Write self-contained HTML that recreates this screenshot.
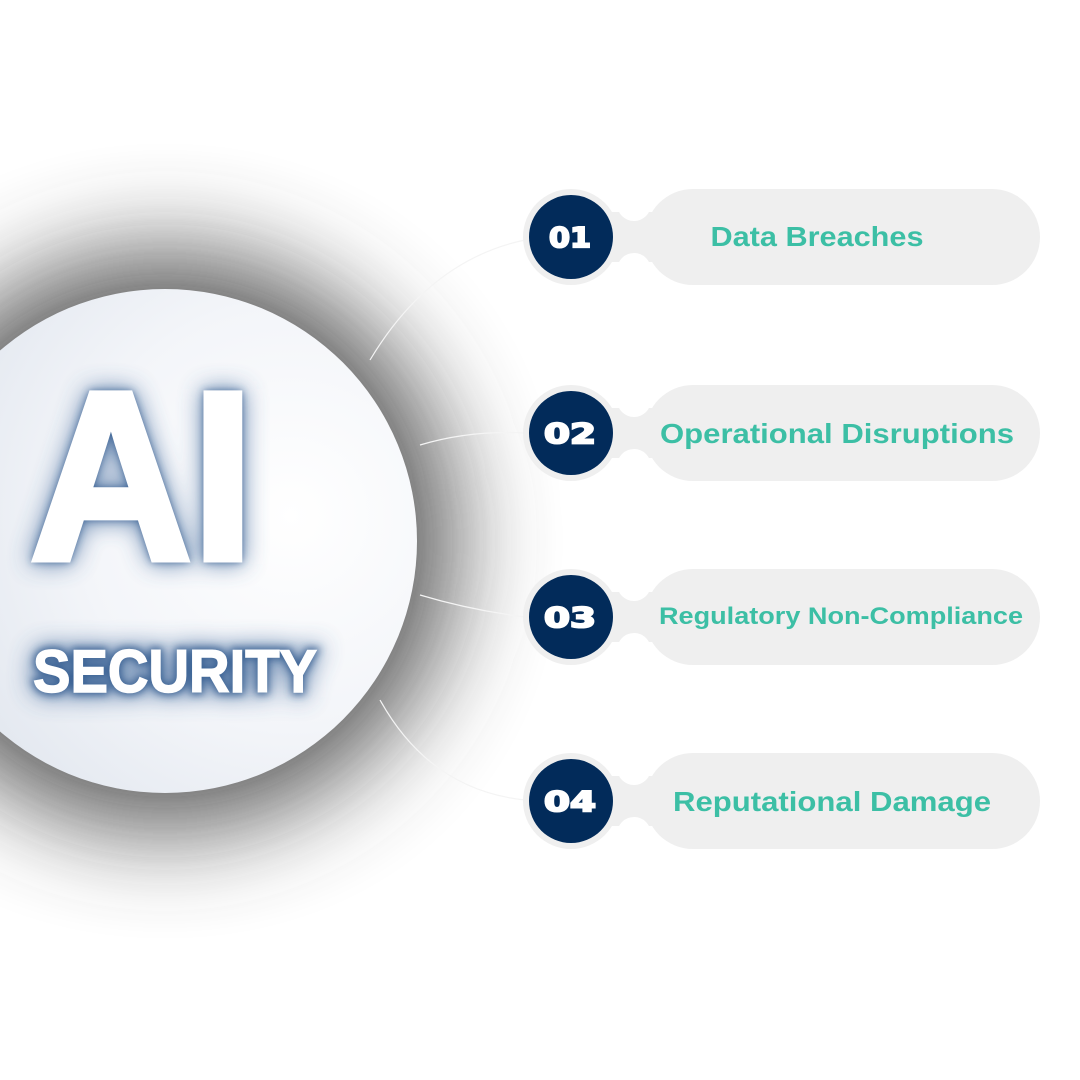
<!DOCTYPE html>
<html><head><meta charset="utf-8"><style>
html,body{margin:0;padding:0;background:#fff;}
</style></head><body>
<svg width="1080" height="1080" viewBox="0 0 1080 1080" xmlns="http://www.w3.org/2000/svg" style="display:block">
<defs>
<filter id="sh" x="-60%" y="-60%" width="220%" height="220%"><feGaussianBlur stdDeviation="50"/></filter>
<filter id="glow" x="-30%" y="-30%" width="160%" height="160%"><feGaussianBlur stdDeviation="12"/></filter>
<filter id="glow2" x="-30%" y="-30%" width="160%" height="160%"><feGaussianBlur stdDeviation="4"/></filter>
<radialGradient id="cg" cx="0.75" cy="0.45" r="0.85">
<stop offset="0" stop-color="#ffffff"/><stop offset="0.5" stop-color="#f3f5f9"/><stop offset="1" stop-color="#dde3ec"/>
</radialGradient>
</defs>
<rect width="1080" height="1080" fill="#fff"/>
<circle cx="165" cy="541" r="290" fill="#404040" filter="url(#sh)" opacity="0.85"/>
<circle cx="165" cy="541" r="252" fill="url(#cg)"/>
<g font-family="Liberation Sans, sans-serif" font-weight="bold">
<g filter="url(#glow)" fill="#3a6498" stroke="#3a6498" stroke-width="10" opacity="0.75">
<text x="30" y="559" font-size="240" textLength="224" lengthAdjust="spacingAndGlyphs">AI</text>
<text x="33" y="692" font-size="60" textLength="284" lengthAdjust="spacingAndGlyphs">SECURITY</text>
</g>
<g filter="url(#glow2)" fill="#2a548a" stroke="#2a548a" stroke-width="6" opacity="0.8">
<text x="30" y="559" font-size="240" textLength="224" lengthAdjust="spacingAndGlyphs">AI</text>
<text x="33" y="692" font-size="60" textLength="284" lengthAdjust="spacingAndGlyphs">SECURITY</text>
</g>
<text x="30" y="559" font-size="240" fill="#fff" stroke="#fff" stroke-width="7" stroke-linejoin="miter" textLength="224" lengthAdjust="spacingAndGlyphs">AI</text>
<text x="33" y="692" font-size="60" fill="#fff" stroke="#fff" stroke-width="1.5" textLength="284" lengthAdjust="spacingAndGlyphs">SECURITY</text>
</g>
<g fill="none" stroke="#f4f4f4" stroke-width="1.2">
<path d="M370 360 Q430 260 525 240"/>
<path d="M420 445 Q470 430 525 433"/>
<path d="M420 595 Q470 610 525 617"/>
<path d="M380 700 Q430 790 525 800"/>
</g>
<g font-family="Liberation Sans, sans-serif" font-weight="bold">
<g transform="translate(0,237)">
<rect x="645" y="-48" width="395" height="96" rx="48" fill="#efefef"/>
<rect x="600" y="-25" width="70" height="50" fill="#efefef"/>
<circle cx="634" cy="-33" r="17" fill="#fff"/><circle cx="634" cy="33" r="17" fill="#fff"/>
<circle cx="571" cy="0" r="48" fill="#efefef"/><circle cx="571" cy="0" r="42" fill="#022b5a"/>
<text x="570" y="10" text-anchor="middle" font-family="DejaVu Sans, sans-serif" font-size="28" fill="#fff" stroke="#fff" stroke-width="2" textLength="42" lengthAdjust="spacingAndGlyphs">01</text>
<text x="817" y="9" text-anchor="middle" font-size="28" fill="#3cbfa5" textLength="213" lengthAdjust="spacingAndGlyphs">Data Breaches</text>
</g>
<g transform="translate(0,433)">
<rect x="645" y="-48" width="395" height="96" rx="48" fill="#efefef"/>
<rect x="600" y="-25" width="70" height="50" fill="#efefef"/>
<circle cx="634" cy="-33" r="17" fill="#fff"/><circle cx="634" cy="33" r="17" fill="#fff"/>
<circle cx="571" cy="0" r="48" fill="#efefef"/><circle cx="571" cy="0" r="42" fill="#022b5a"/>
<text x="570" y="10" text-anchor="middle" font-family="DejaVu Sans, sans-serif" font-size="28" fill="#fff" stroke="#fff" stroke-width="2" textLength="52" lengthAdjust="spacingAndGlyphs">02</text>
<text x="837" y="10" text-anchor="middle" font-size="28" fill="#3cbfa5" textLength="354" lengthAdjust="spacingAndGlyphs">Operational Disruptions</text>
</g>
<g transform="translate(0,617)">
<rect x="645" y="-48" width="395" height="96" rx="48" fill="#efefef"/>
<rect x="600" y="-25" width="70" height="50" fill="#efefef"/>
<circle cx="634" cy="-33" r="17" fill="#fff"/><circle cx="634" cy="33" r="17" fill="#fff"/>
<circle cx="571" cy="0" r="48" fill="#efefef"/><circle cx="571" cy="0" r="42" fill="#022b5a"/>
<text x="570" y="10" text-anchor="middle" font-family="DejaVu Sans, sans-serif" font-size="28" fill="#fff" stroke="#fff" stroke-width="2" textLength="52" lengthAdjust="spacingAndGlyphs">03</text>
<text x="841" y="7" text-anchor="middle" font-size="24" fill="#3cbfa5" textLength="364" lengthAdjust="spacingAndGlyphs">Regulatory Non-Compliance</text>
</g>
<g transform="translate(0,801)">
<rect x="645" y="-48" width="395" height="96" rx="48" fill="#efefef"/>
<rect x="600" y="-25" width="70" height="50" fill="#efefef"/>
<circle cx="634" cy="-33" r="17" fill="#fff"/><circle cx="634" cy="33" r="17" fill="#fff"/>
<circle cx="571" cy="0" r="48" fill="#efefef"/><circle cx="571" cy="0" r="42" fill="#022b5a"/>
<text x="570" y="10" text-anchor="middle" font-family="DejaVu Sans, sans-serif" font-size="28" fill="#fff" stroke="#fff" stroke-width="2" textLength="52" lengthAdjust="spacingAndGlyphs">04</text>
<text x="832" y="10" text-anchor="middle" font-size="28" fill="#3cbfa5" textLength="318" lengthAdjust="spacingAndGlyphs">Reputational Damage</text>
</g>
</g>
</svg>
</body></html>
